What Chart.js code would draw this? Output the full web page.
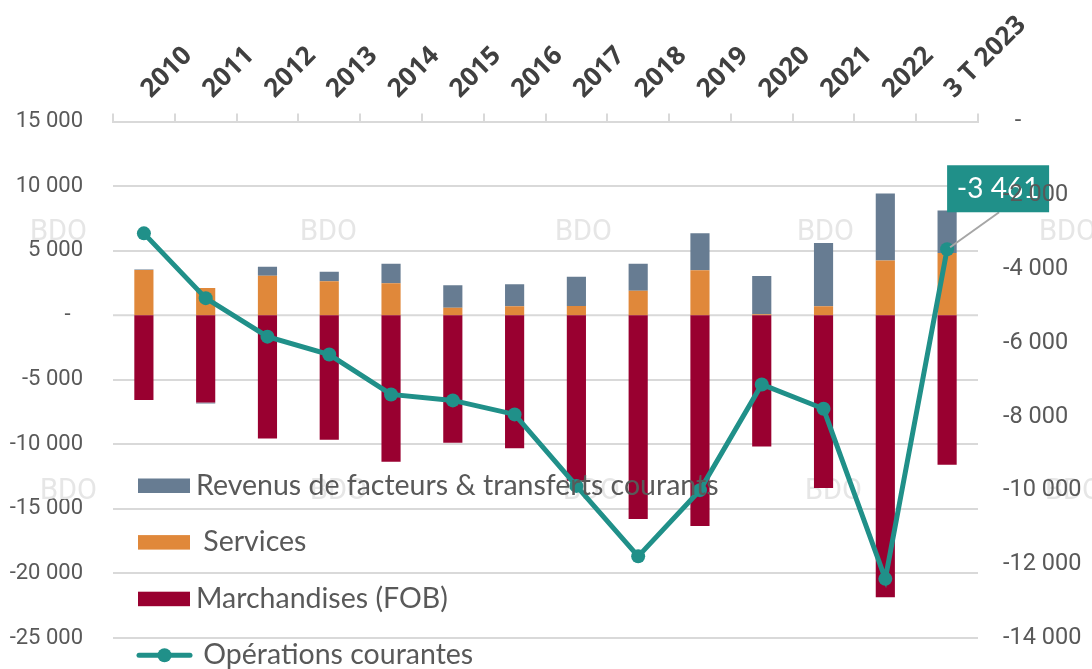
<!DOCTYPE html>
<html>
<head>
<meta charset="utf-8">
<script src="https://cdn.jsdelivr.net/npm/chart.js@4.4.0/dist/chart.umd.min.js"></script>
<style>
  body { margin: 0; background: #fff; }
  #wrap { width: 1092px; height: 669px; position: relative; }
</style>
</head>
<body>
<div id="wrap"><canvas id="chart"></canvas></div>
<script>
// Balance des paiements
const years = ['2010', '2011', '2012', '2013', '2014', '2015', '2016', '2017', '2018', '2019', '2020', '2021', '2022', '3 T 2023'];
const marchandises = [-6570, -6760, -9540, -9640, -11350, -9880, -10310, -12820, -15780, -16320, -10160, -13380, -21840, -11580];
const services = [3500, 2110, 3060, 2630, 2470, 590, 700, 720, 1900, 3480, 80, 700, 4250, 4820];
const revenus = [50, -80, 700, 740, 1520, 1730, 1700, 2270, 2090, 2880, 2960, 4890, 5180, 3300];
const operations = [-3030, -4786, -5830, -6316, -7397, -7559, -7938, -9876, -11787, -9992, -7127, -7786, -12397, -3461];

const colRevenus = '#677c92';
const colServices = '#e0883a';
const colMarch = '#990030';
const colCourant = '#209089';
const grisTexte = '#595959';
const grisGrille = '#d9d9d9';

// separateur des milliers = espace
function fmt(v) {
  const s = Math.abs(v).toString().replace(/\B(?=(\d{3})+(?!\d))/g, ' ');
  return (v < 0 ? '-' : '') + s;
}

// ligne du zero + filigrane BDO (sous les barres)
const fond = {
  id: 'fond',
  beforeDatasetsDraw(chart) {
    const ctx = chart.ctx;
    const area = chart.chartArea;
    const y0 = chart.scales.y.getPixelForValue(0);
    ctx.save();
    ctx.strokeStyle = grisGrille;
    ctx.lineWidth = 2;
    ctx.beginPath();
    ctx.moveTo(area.left, y0);
    ctx.lineTo(area.right, y0);
    ctx.stroke();

    const pos = [[30, 240], [300, 240], [555, 240], [797, 240], [1039, 240],
                 [40, 499], [310, 499], [563, 499], [805, 499], [1045, 499]];
    ctx.font = '29px Roboto';
    ctx.fillStyle = '#e6e6e6';
    ctx.textBaseline = 'alphabetic';
    pos.forEach(p => ctx.fillText('BDO', p[0], p[1]));
    ctx.restore();
  }
};

// etiquette de la derniere valeur
const etiquette = {
  id: 'etiquette',
  afterDatasetsDraw(chart) {
    const ctx = chart.ctx;
    const meta = chart.getDatasetMeta(3);
    const i = operations.length - 1;
    const pt = meta.data[i];
    ctx.save();
    ctx.strokeStyle = '#a6a6a6';
    ctx.lineWidth = 2;
    ctx.beginPath();
    ctx.moveTo(pt.x + 3, pt.y - 2);
    ctx.lineTo(pt.x + 52, pt.y - 37);
    ctx.stroke();
    ctx.fillStyle = colCourant;
    ctx.fillRect(pt.x, pt.y - 84, 102, 47);
    ctx.fillStyle = '#fff';
    ctx.font = '28px Lato';
    ctx.textAlign = 'center';
    ctx.textBaseline = 'middle';
    ctx.fillText(fmt(operations[i]), pt.x + 51, pt.y - 60);
    ctx.restore();
  }
};

// legende dans la zone du graphique
const legende = {
  id: 'legende',
  afterDraw(chart) {
    const ctx = chart.ctx;
    const ordre = [2, 1, 0, 3];
    ctx.save();
    ctx.font = '28.5px Lato';
    ctx.fillStyle = grisTexte;
    ctx.textBaseline = 'middle';
    ordre.forEach((d, k) => {
      const ds = chart.data.datasets[d];
      const y = 485.5 + k * 56.6;
      if (ds.type === 'line') {
        ctx.strokeStyle = ds.borderColor;
        ctx.lineWidth = 5;
        ctx.lineCap = 'round';
        ctx.beginPath();
        ctx.moveTo(139, y);
        ctx.lineTo(190, y);
        ctx.stroke();
        ctx.fillStyle = ds.borderColor;
        ctx.beginPath();
        ctx.arc(164.5, y, 7, 0, Math.PI * 2);
        ctx.fill();
      } else {
        ctx.fillStyle = ds.backgroundColor;
        ctx.fillRect(138, y - 7, 52, 14.5);
      }
      ctx.fillStyle = grisTexte;
      ctx.fillText(ds.label, 196, y);
    });
    ctx.restore();
  }
};

// pas de marge verticale ajoutee par les etiquettes des axes y
function largeurAxe(w) {
  return s => { s.width = w; s.paddingTop = 0; s.paddingBottom = 0; };
}

const ctx = document.getElementById('chart').getContext('2d');
new Chart(ctx, {
  data: {
    labels: years,
    datasets: [
      { type: 'bar', label: 'Marchandises (FOB)', data: marchandises, backgroundColor: colMarch, yAxisID: 'y', order: 1 },
      { type: 'bar', label: ' Services', data: services, backgroundColor: colServices, yAxisID: 'y', order: 1 },
      { type: 'bar', label: 'Revenus de facteurs & transferts courants', data: revenus, backgroundColor: colRevenus, yAxisID: 'y', order: 1 },
      {
        type: 'line', label: ' Opérations courantes', data: operations, yAxisID: 'y1', order: 0,
        borderColor: colCourant, backgroundColor: colCourant, borderWidth: 5,
        pointRadius: 7, pointBackgroundColor: colCourant, pointBorderWidth: 0, tension: 0
      }
    ]
  },
  options: {
    responsive: true,
    maintainAspectRatio: false,
    animation: false,
    layout: { padding: { top: 0, bottom: 31, left: 0, right: 0 } },
    datasets: { bar: { categoryPercentage: 1, barPercentage: 0.31 } },
    plugins: { legend: { display: false }, tooltip: { enabled: false } },
    scales: {
      x: {
        position: 'top',
        stacked: true,
        offset: true,
        afterFit: s => { s.height = 121.6; },
        grid: { drawOnChartArea: false, drawTicks: true, tickLength: 8, color: grisGrille, lineWidth: 2, offset: true },
        border: { display: true, color: grisGrille, width: 2 },
        ticks: {
          minRotation: 45, maxRotation: 45, autoSkip: false, padding: 9, labelOffset: 24,
          color: '#404040', font: { family: 'Open Sans', size: 26, weight: 'bold' }
        }
      },
      y: {
        position: 'left',
        stacked: true,
        min: -25000, max: 15000,
        afterFit: largeurAxe(113),
        // la ligne du zero est tracee par le plugin, sinon les barres s'en ecartent
        grid: { color: grisGrille, lineWidth: c => (c.tick && c.tick.value === 0 ? 0 : 2), drawTicks: false },
        border: { display: false },
        ticks: {
          stepSize: 5000, padding: 30, color: grisTexte,
          font: { family: 'Roboto', size: 22 },
          callback: v => v === 0 ? '-\u2007' : fmt(v)
        }
      },
      y1: {
        position: 'right',
        min: -14000, max: 0,
        afterFit: largeurAxe(114),
        grid: { drawOnChartArea: false, drawTicks: false },
        border: { display: false },
        ticks: {
          z: 1,
          stepSize: 2000, padding: 25, color: grisTexte,
          font: { family: 'Roboto', size: 23.5 },
          callback: v => v === 0 ? '  -' : fmt(v)
        }
      }
    }
  },
  plugins: [fond, etiquette, legende]
});
</script>
</body>
</html>
